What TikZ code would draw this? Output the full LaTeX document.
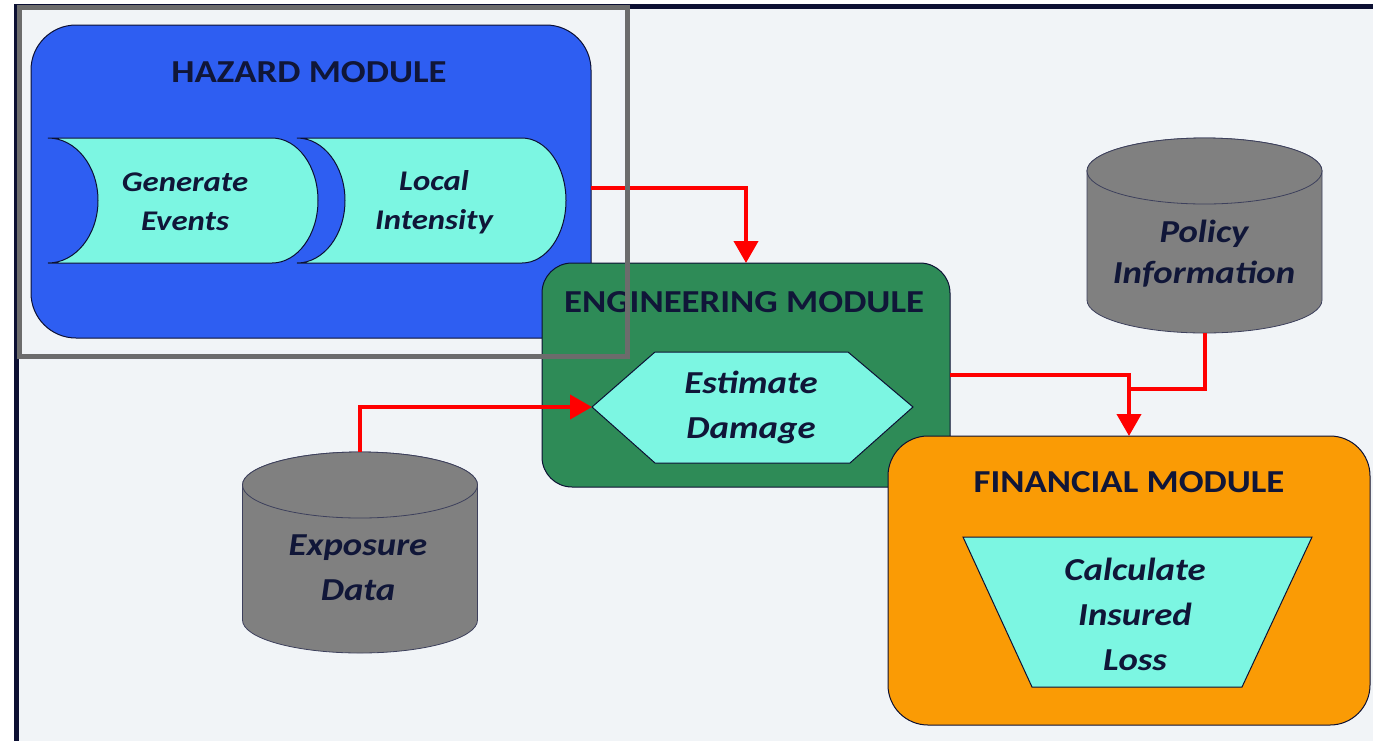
\documentclass[tikz,border=0pt]{standalone}
\usepackage{fontspec}
\setmainfont{Carlito}[FakeStretch=1.15]
\usetikzlibrary{arrows.meta}
\definecolor{bgc}{RGB}{241,244,247}
\definecolor{navy}{RGB}{12,16,51}
\definecolor{framegrey}{RGB}{108,108,108}
\definecolor{hazblue}{RGB}{46,94,242}
\definecolor{aqua}{RGB}{124,246,226}
\definecolor{enggreen}{RGB}{46,139,87}
\definecolor{finorange}{RGB}{250,155,5}
\definecolor{cylgrey}{RGB}{128,128,128}
\definecolor{txt}{RGB}{16,22,56}
\definecolor{arrowred}{RGB}{255,0,0}
\begin{document}
\begin{tikzpicture}[x=1pt,y=-1pt,
  module/.style={draw=navy, line width=1pt, inner sep=0pt, outer sep=0pt},
  inner/.style={draw=navy, line width=1pt, fill=aqua},
  cyl/.style={draw=navy!80, line width=0.8pt, fill=cylgrey},
  anchorbox/.style={inner sep=0pt, outer sep=0pt},
  title/.style={text=txt, font=\bfseries\fontsize{32}{38}\selectfont},
  label/.style={text=txt, align=center, font=\bfseries\itshape\fontsize{32}{45}\selectfont},
  smalllabel/.style={text=txt, align=center, font=\bfseries\itshape\fontsize{28.5}{39}\selectfont},
  wire/.style={draw=arrowred, line width=4pt},
  flow/.style={wire, -{Triangle[length=22pt,width=24pt]}},
  frame/.style={draw=framegrey, line width=5pt}]
\useasboundingbox (0,0) rectangle (1373,740);
\clip (0,0) rectangle (1373,740);
\fill[white] (0,0) rectangle (1373,740);
\draw[navy, line width=5pt, fill=bgc] (16.5,6.5) rectangle (1420,790);

% ---------------- Hazard module
\node[module, fill=hazblue, minimum width=560pt, minimum height=313pt, rounded corners=45pt] (haz) at (311,181.5) {};
\node[title] (hazt) at (309,72) {HAZARD MODULE};
\draw[inner] (48,138) -- (272,138) arc[start angle=-90,end angle=90,x radius=46,y radius=62.5]
  -- (48,263) arc[start angle=90,end angle=-90,x radius=50,y radius=62.5] -- cycle;
\node[smalllabel] (ge) at (185,202) {Generate\\Events};
\draw[inner] (297,138) -- (522,138) arc[start angle=-90,end angle=90,x radius=44,y radius=62.5]
  -- (297,263) arc[start angle=90,end angle=-90,x radius=48,y radius=62.5] -- cycle;
\node[smalllabel] (li) at (434,202) {Local\\Intensity};
\coordinate (hazR) at (591,188);

% ---------------- Engineering module
\node[module, fill=enggreen, minimum width=408pt, minimum height=224pt, rounded corners=30pt] (eng) at (746,375) {};
\node[title] (engt) at (744,302) {ENGINEERING MODULE};
\coordinate (hexW) at (592,407);
\coordinate (hexNW) at (655,352);
\coordinate (hexNE) at (848,352);
\coordinate (hexE) at (913,407);
\coordinate (hexSE) at (850,463);
\coordinate (hexSW) at (655,463);
\draw[inner] (hexW) -- (hexNW) -- (hexNE) -- (hexE) -- (hexSE) -- (hexSW) -- cycle;
\node[label] (dmg) at (751,407) {Estimate\\Damage};

% ---------------- Financial module
\node[module, fill=finorange, minimum width=482pt, minimum height=289pt, rounded corners=40pt] (fin) at (1129,580.5) {};
\node[title] (fint) at (1129,482) {FINANCIAL MODULE};
\coordinate (trNW) at (963,537);
\coordinate (trNE) at (1312,537);
\coordinate (trSE) at (1242,687);
\coordinate (trSW) at (1032,687);
\draw[inner] (trNW) -- (trNE) -- (trSE) -- (trSW) -- cycle;
\node[label] (cil) at (1135,614.5) {Calculate\\Insured\\Loss};

% ---------------- Policy information cylinder
\node[anchorbox, minimum width=235pt, minimum height=195pt] (policy) at (1204.5,235.5) {};
\path[cyl] (1087,171) -- (1087,300) arc[start angle=180,end angle=0,x radius=117.5,y radius=33]
  -- (1322,171) arc[start angle=0,end angle=-180,x radius=117.5,y radius=33] -- cycle;
\draw[cyl] (1204.5,171) ellipse [x radius=117.5, y radius=33];
\node[label, font=\bfseries\itshape\fontsize{32}{41}\selectfont] (policyt) at (1204,253.5) {Policy\\Information};

% ---------------- Exposure data cylinder
\node[anchorbox, minimum width=235pt, minimum height=201pt] (expo) at (360,552.5) {};
\path[cyl] (242.5,485) -- (242.5,620) arc[start angle=180,end angle=0,x radius=117.5,y radius=33]
  -- (477.5,485) arc[start angle=0,end angle=-180,x radius=117.5,y radius=33] -- cycle;
\draw[cyl] (360,485) ellipse [x radius=117.5, y radius=33];
\node[label] (expot) at (358,567.5) {Exposure\\Data};

% ---------------- Connectors
\coordinate (merge) at (1129,389);
\draw[flow] (hazR) -| (eng.north);
\draw[flow] (expo.north) |- (hexW);
\draw[wire] (policy.south) |- (merge);
\draw[flow] (eng.east) -| (fin.north);

% ---------------- Grey frame on top
\draw[frame] (19.5,7) rectangle (627,356);
\end{tikzpicture}
\end{document}
